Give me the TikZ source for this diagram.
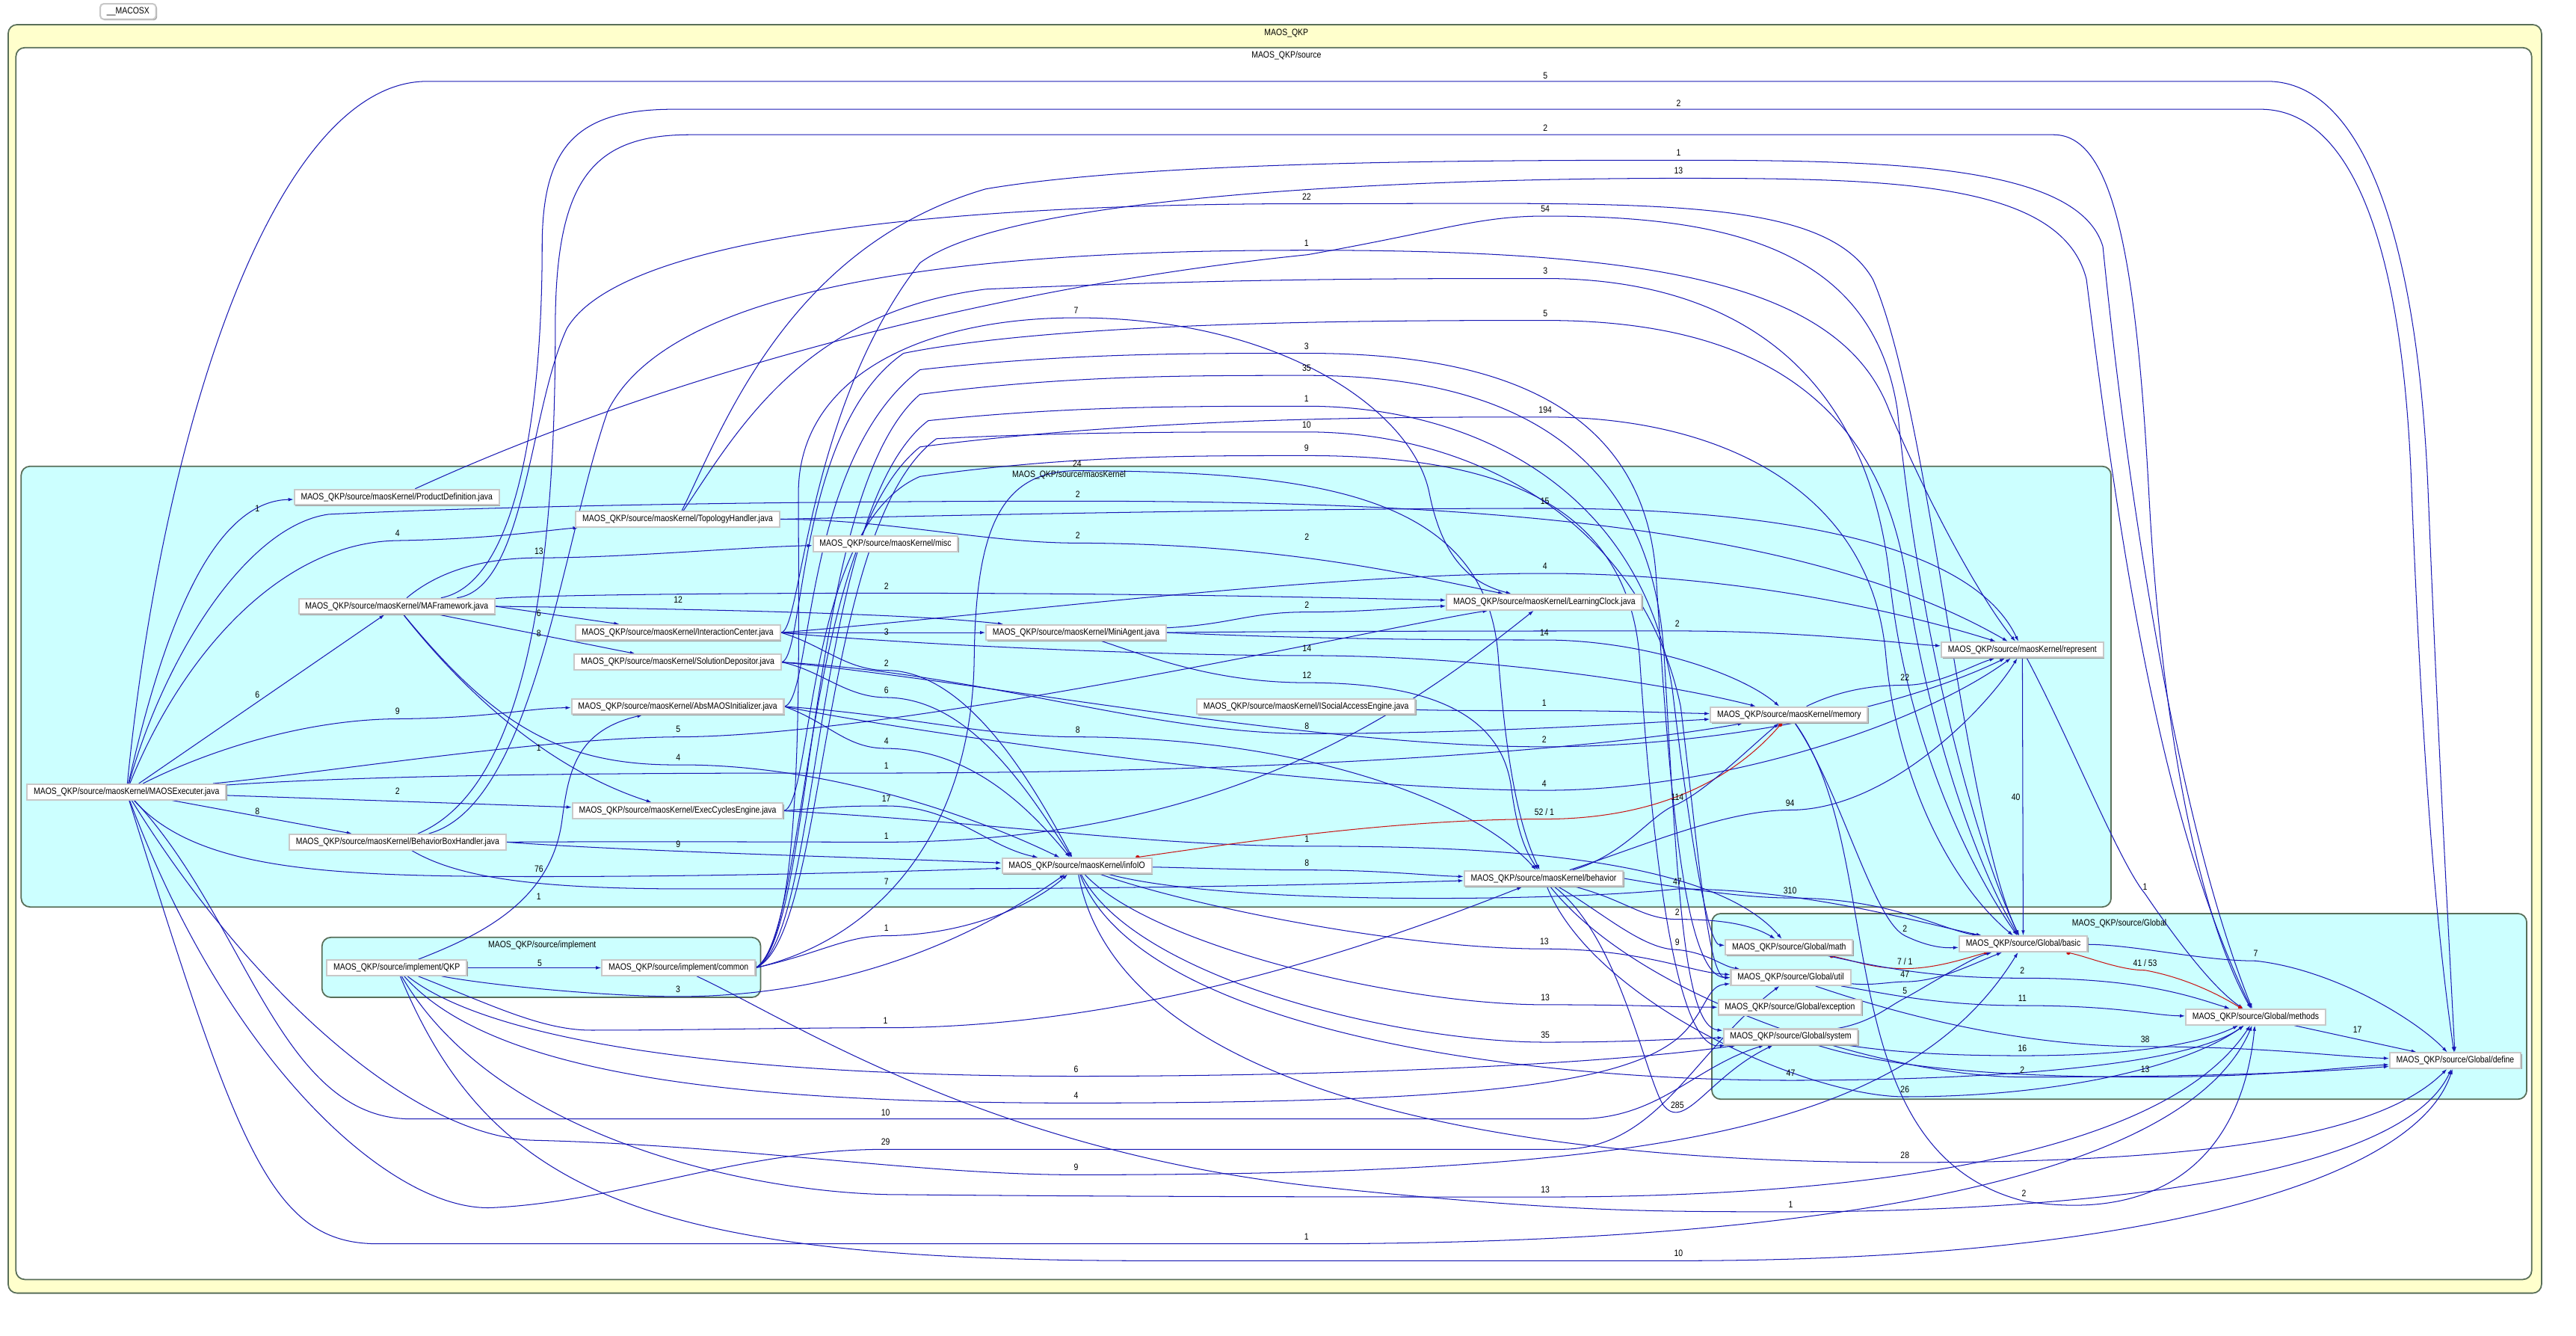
\documentclass[tikz,border=0pt]{standalone}
\usepackage{fontspec}
\setmainfont{Liberation Sans}[FakeStretch=0.85]
\usetikzlibrary{arrows.meta,shadows}
\definecolor{edgeblue}{RGB}{24,24,180}
\definecolor{cycred}{RGB}{200,20,20}
\definecolor{outerfill}{RGB}{255,255,204}
\definecolor{clusterfill}{RGB}{204,255,255}
\definecolor{frameline}{RGB}{88,110,88}
\definecolor{boxline}{RGB}{200,200,200}
\pgfdeclarelayer{clusters}
\pgfdeclarelayer{wires}
\pgfsetlayers{clusters,wires,main}
\begin{document}
\begin{tikzpicture}[x=0.75pt,y=0.75pt,
  file/.style={draw=boxline, line width=0.7pt, fill=white, inner xsep=3pt, inner ysep=1.2pt, minimum height=7pt, font=\fontsize{4.2}{5}\selectfont,
    drop shadow={shadow xshift=0.5pt, shadow yshift=-0.5pt, fill=black!40, opacity=1}},
  lbl/.style={inner sep=0.5pt, font=\fontsize{4.2}{5}\selectfont},
  dep/.style={draw=edgeblue, line width=0.35pt, -{Latex[length=2.4pt,width=1.6pt]}},
  cyc/.style={draw=cycred, line width=0.35pt, {Circle[length=1.8pt]}-{Circle[length=1.8pt]}},
  group/.style={draw=frameline, line width=0.6pt, rounded corners=4pt}]
\useasboundingbox (0,0) rectangle (1568,-812.67);

%Clusters
\begin{pgfonlayer}{clusters}
\draw[group, fill=outerfill] (5,-15) rectangle (1547,-787);
\draw[group, fill=white] (9.7,-29) rectangle (1541,-778.7);
\draw[group, fill=clusterfill] (12.9,-283.8) rectangle (1285,-552);
\draw[group, fill=clusterfill] (196,-570.5) rectangle (463,-607);
\draw[group, fill=clusterfill] (1042,-556) rectangle (1538,-669);
\end{pgfonlayer}

% Text Node
\node[lbl] (tqkp) at (783,-20) {MAOS\_QKP};
\node[lbl] (tsrc) at (783,-34) {MAOS\_QKP/source};
\node[lbl] (tker) at (650.7,-289) {MAOS\_QKP/source/maosKernel};
\node[lbl] (timp) at (330,-575.5) {MAOS\_QKP/source/implement};
\node[lbl] (tglo) at (1290,-562) {MAOS\_QKP/source/Global};

%Files
\node[file, rounded corners=1.5pt] (mac) at (78,-7) {\_\_MACOSX};
\node[file] (pd) at (241.5,-302.6) {MAOS\_QKP/source/maosKernel/ProductDefinition.java};
\node[file] (topo) at (412.5,-316) {MAOS\_QKP/source/maosKernel/TopologyHandler.java};
\node[file] (misc) at (539,-331) {MAOS\_QKP/source/maosKernel/misc};
\node[file] (mafw) at (241.5,-369) {MAOS\_QKP/source/maosKernel/MAFramework.java};
\node[file] (ic) at (412.5,-385) {MAOS\_QKP/source/maosKernel/InteractionCenter.java};
\node[file] (sd) at (412.5,-403) {MAOS\_QKP/source/maosKernel/SolutionDepositor.java};
\node[file] (init) at (412.5,-430) {MAOS\_QKP/source/maosKernel/AbsMAOSInitializer.java};
\node[file] (exe) at (77,-482) {MAOS\_QKP/source/maosKernel/MAOSExecuter.java};
\node[file] (ece) at (412.5,-493.5) {MAOS\_QKP/source/maosKernel/ExecCyclesEngine.java};
\node[file] (bbh) at (242,-512.5) {MAOS\_QKP/source/maosKernel/BehaviorBoxHandler.java};
\node[file] (mini) at (655,-385) {MAOS\_QKP/source/maosKernel/MiniAgent.java};
\node[file] (clock) at (940,-366.5) {MAOS\_QKP/source/maosKernel/LearningClock.java};
\node[file] (sae) at (795,-430) {MAOS\_QKP/source/maosKernel/ISocialAccessEngine.java};
\node[file] (io) at (655.5,-527) {MAOS\_QKP/source/maosKernel/infoIO};
\node[file] (beh) at (939.6,-534.6) {MAOS\_QKP/source/maosKernel/behavior};
\node[file] (mem) at (1089,-435) {MAOS\_QKP/source/maosKernel/memory};
\node[file] (rep) at (1231,-395.5) {MAOS\_QKP/source/maosKernel/represent};
\node[file] (qkp) at (241.5,-589) {MAOS\_QKP/source/implement/QKP};
\node[file] (com) at (413,-589) {MAOS\_QKP/source/implement/common};
\node[file] (gmath) at (1089,-576.5) {MAOS\_QKP/source/Global/math};
\node[file] (gutil) at (1090,-595) {MAOS\_QKP/source/Global/util};
\node[file] (gexc) at (1089.5,-613) {MAOS\_QKP/source/Global/exception};
\node[file] (gsys) at (1090,-631) {MAOS\_QKP/source/Global/system};
\node[file] (gbasic) at (1231.5,-574.5) {MAOS\_QKP/source/Global/basic};
\node[file] (gmeth) at (1373,-619) {MAOS\_QKP/source/Global/methods};
\node[file] (gdef) at (1494.5,-645.5) {MAOS\_QKP/source/Global/define};

\begin{pgfonlayer}{wires}
%MAOSExecuter
\draw[dep] (exe) .. controls (100,-380) and (130,-305) .. (pd);
\draw[dep] (exe) -- (mafw);
\draw[dep] (exe) -- (bbh);
\draw[dep] (exe) .. controls (110,-400) and (170,-330) .. (242,-329) .. controls (300,-328) and (330,-323) .. (topo);
\draw[dep] (exe) .. controls (120,-460) and (180,-438) .. (242,-437.5) .. controls (300,-437) and (320,-431) .. (init);
\draw[dep] (exe) -- (ece);
\draw[dep] (exe) .. controls (100,-400) and (150,-320) .. (200,-313) .. controls (350,-306) and (550,-305) .. (656,-305) .. controls (900,-305) and (1100,-320) .. (rep);
\draw[dep] (exe) .. controls (120,-530) and (200,-533.5) .. (328,-533.5) .. controls (450,-533.5) and (560,-530) .. (io);
\draw[dep] (exe) .. controls (200,-470) and (330,-449) .. (412.8,-448.5) .. controls (550,-448) and (850,-380) .. (clock);
\draw[dep] (exe) .. controls (250,-470) and (450,-470.5) .. (539.5,-470.5) .. controls (800,-470) and (980,-455) .. (mem);
\draw[dep] (exe) .. controls (100,-250) and (170,-49.5) .. (260,-49.5) -- (1380,-49.5) .. controls (1440,-49.5) and (1472,-150) .. (1478,-300) .. controls (1484,-450) and (1490,-560) .. (gdef);
\draw[dep] (exe) .. controls (150,-560) and (170,-681) .. (250,-681) -- (960,-681) .. controls (1010,-681) and (1030,-650) .. (gsys);
\draw[dep] (exe) .. controls (140,-650) and (240,-738) .. (300,-735) .. controls (380,-731) and (450,-699.5) .. (539,-699.5) -- (950,-699.5) .. controls (1010,-699.5) and (1030,-640) .. (gutil);
\draw[dep] (exe) .. controls (150,-600) and (250,-692) .. (325,-694) .. controls (450,-697) and (560,-715) .. (655,-715) .. controls (1000,-715) and (1160,-690) .. (gbasic);
\draw[dep] (exe) .. controls (145,-700) and (165,-757) .. (230,-757) -- (795,-757) .. controls (1100,-757) and (1330,-720) .. (gmeth);
%MAFramework
\draw[dep] (mafw) .. controls (270,-345) and (300,-339.5) .. (328,-339.5) .. controls (380,-339.5) and (450,-333) .. (misc);
\draw[dep] (mafw.east) -- (ic);
\draw[dep] (mafw) -- (sd);
\draw[dep] (mafw) .. controls (290,-430) and (340,-470) .. (ece);
\draw[dep] (mafw.east) .. controls (450,-371) and (560,-374) .. (mini);
\draw[dep] (mafw) .. controls (300,-440) and (340,-466) .. (412.8,-465.5) .. controls (500,-465) and (590,-495) .. (io);
\draw[dep] (mafw) .. controls (330,-362) and (450,-361) .. (539.5,-361) .. controls (700,-361) and (820,-364) .. (clock);
\draw[dep] (mafw) .. controls (315,-355) and (330,-250) .. (330,-150) .. controls (330,-90) and (350,-66.5) .. (410,-66.5) -- (1376,-66.5) .. controls (1420,-66.5) and (1462,-120) .. (1468,-300) .. controls (1474,-450) and (1482,-560) .. (gdef);
\draw[dep] (mafw) .. controls (320,-358) and (322,-250) .. (345,-200) .. controls (380,-140) and (600,-124) .. (795.3,-124) .. controls (1000,-124) and (1110,-118) .. (1140,-170) .. controls (1175,-250) and (1195,-500) .. (gbasic);
%ProductDefinition
\draw[dep] (pd) .. controls (400,-230) and (600,-175) .. (796,-155) .. controls (880,-140) and (900,-131.5) .. (940.6,-131.5) .. controls (1050,-131.5) and (1140,-150) .. (1155,-250) .. controls (1170,-400) and (1205,-520) .. (gbasic);
%BehaviorBoxHandler
\draw[dep] (bbh.east) .. controls (380,-518) and (530,-522) .. (io);
\draw[dep] (bbh.east) .. controls (400,-512) and (480,-512.5) .. (539.5,-512.5) .. controls (750,-512) and (860,-430) .. (clock);
\draw[dep] (bbh) .. controls (280,-535) and (330,-541) .. (420,-541) -- (539.5,-541) .. controls (700,-541) and (820,-538) .. (beh);
\draw[dep] (bbh) .. controls (320,-480) and (338,-350) .. (338,-200) .. controls (338,-110) and (360,-82) .. (420,-82) -- (1250,-82) .. controls (1285,-82) and (1300,-150) .. (1308,-300) .. controls (1316,-450) and (1340,-560) .. (gmeth);
\draw[dep] (bbh) .. controls (325,-490) and (342,-330) .. (370,-250) .. controls (410,-170) and (600,-152.3) .. (795.3,-152.3) .. controls (1000,-152.3) and (1120,-170) .. (1150,-250) .. controls (1180,-320) and (1210,-370) .. (rep);
%TopologyHandler
\draw[dep] (topo) .. controls (440,-260) and (480,-150) .. (600,-115) .. controls (700,-98) and (900,-97.5) .. (1021.7,-97.5) .. controls (1150,-97.5) and (1265,-100) .. (1280,-150) .. controls (1295,-300) and (1325,-500) .. (gmeth);
\draw[dep] (topo.east) .. controls (600,-313) and (800,-309.4) .. (940.4,-309.4) .. controls (1080,-309.4) and (1200,-330) .. (rep);
\draw[dep] (topo) .. controls (450,-260) and (490,-190) .. (600,-176) .. controls (750,-169.5) and (850,-169.5) .. (940.6,-169.5) .. controls (1050,-169.5) and (1135,-220) .. (1150,-350) .. controls (1160,-450) and (1200,-530) .. (gbasic);
\draw[dep] (topo.east) .. controls (540,-316) and (600,-330.5) .. (656,-330.5) .. controls (780,-331) and (860,-350) .. (clock);
%InteractionCenter
\draw[dep] (ic) -- (mini);
\draw[dep] (ic.east) .. controls (500,-392) and (515,-408) .. (539.5,-408) .. controls (590,-408) and (630,-480) .. (io);
\draw[dep] (ic.east) .. controls (550,-392) and (700,-399) .. (795.5,-399) .. controls (900,-399) and (1010,-415) .. (mem);
\draw[dep] (ic.east) .. controls (488,-385) and (490,-250) .. (560,-160) .. controls (620,-115) and (900,-108.5) .. (1021.7,-108.5) .. controls (1150,-108.5) and (1255,-110) .. (1270,-170) .. controls (1290,-330) and (1315,-500) .. (gmeth);
\draw[dep] (ic.east) .. controls (600,-375) and (800,-349) .. (940.4,-349) .. controls (1050,-349) and (1150,-370) .. (rep);
%SolutionDepositor
\draw[dep] (sd.east) .. controls (500,-408) and (515,-424.5) .. (539.5,-424.5) .. controls (590,-425) and (625,-480) .. (io);
\draw[dep] (sd.east) .. controls (600,-410) and (700,-446.5) .. (795.5,-446.5) .. controls (900,-446.5) and (1000,-440) .. (mem);
\draw[dep] (sd.east) .. controls (600,-415) and (800,-454.5) .. (940,-454.5) .. controls (1050,-454.5) and (1160,-430) .. (rep);
\draw[dep] (sd.east) .. controls (490,-400) and (485,-260) .. (550,-215) .. controls (650,-195) and (850,-195) .. (940.6,-195) .. controls (1050,-195) and (1140,-230) .. (1160,-350) .. controls (1175,-450) and (1205,-530) .. (gbasic);
%AbsMAOSInitializer
\draw[dep] (init.east) .. controls (505,-440) and (515,-455.5) .. (539.5,-455.5) .. controls (590,-456) and (625,-490) .. (io);
\draw[dep] (init.east) .. controls (550,-435) and (600,-448.5) .. (656,-448.5) .. controls (800,-449) and (900,-490) .. (beh);
\draw[dep] (init.east) .. controls (550,-445) and (800,-481) .. (940,-481) .. controls (1050,-481) and (1170,-440) .. (rep);
\draw[dep] (init.east) .. controls (495,-425) and (488,-280) .. (560,-225) .. controls (650,-215) and (720,-215) .. (795.3,-215) .. controls (900,-215) and (1000,-240) .. (1008,-350) .. controls (1016,-480) and (1025,-595) .. (gutil);
%ExecCyclesEngine
\draw[dep] (ece.east) .. controls (505,-491) and (515,-490.5) .. (539.5,-490.5) .. controls (580,-490.5) and (600,-515) .. (io);
\draw[dep] (ece.east) .. controls (600,-500) and (700,-515) .. (795.5,-515) .. controls (900,-515) and (1040,-520) .. (gmath);
\draw[dep] (ece.east) .. controls (495,-490) and (490,-320) .. (560,-290) .. controls (650,-277.3) and (720,-277.3) .. (795.3,-277.3) .. controls (900,-277.3) and (990,-300) .. (998,-400) .. controls (1006,-520) and (1020,-640) .. (gsys);
%implement/common
\draw[dep] (com.east) .. controls (500,-580) and (515,-569.5) .. (539.5,-569.5) .. controls (590,-569) and (630,-550) .. (io);
\draw[dep] (com.east) .. controls (540,-570) and (592,-500) .. (593,-400) .. controls (594,-320) and (610,-286.5) .. (655.6,-286.5) .. controls (800,-287) and (905,-300) .. (912,-400) .. controls (918,-480) and (928,-510) .. (beh);
\draw[dep] (com.east) .. controls (490,-570) and (486,-400) .. (486,-300) .. controls (486,-230) and (560,-193.4) .. (655,-193.4) .. controls (780,-193.4) and (860,-250) .. (870,-300) .. controls (878,-340) and (895,-355) .. (clock);
\draw[dep] (com.east) .. controls (492,-570) and (488,-330) .. (560,-272) .. controls (700,-253.8) and (850,-253.8) .. (940.6,-253.8) .. controls (1050,-253.8) and (1140,-300) .. (1148,-400) .. controls (1156,-480) and (1190,-540) .. (gbasic);
\draw[dep] (com.east) .. controls (496,-570) and (490,-300) .. (560,-240) .. controls (650,-228.5) and (720,-228.5) .. (795.3,-228.5) .. controls (900,-228.5) and (1005,-260) .. (1013,-400) .. controls (1021,-540) and (1025,-625) .. (gsys);
\draw[dep] (com.east) .. controls (500,-570) and (494,-310) .. (565,-256) .. controls (650,-247.2) and (720,-247.2) .. (795.3,-247.2) .. controls (900,-247.2) and (1000,-300) .. (1018,-420) .. controls (1030,-520) and (1040,-575) .. (gmath);
\draw[dep] (com.east) .. controls (504,-570) and (498,-320) .. (570,-267) .. controls (650,-262.9) and (720,-262.9) .. (795.3,-262.9) .. controls (900,-262.9) and (1000,-320) .. (1023,-430) .. controls (1035,-530) and (1040,-595) .. (gutil);
\draw[dep] (com) .. controls (480,-620) and (600,-700) .. (800,-722) .. controls (950,-737.5) and (1000,-737.5) .. (1090,-737.5) .. controls (1250,-737.5) and (1460,-720) .. (gdef);
%implement/QKP
\draw[dep] (qkp) -- (com);
\draw[dep] (qkp) .. controls (300,-600) and (370,-606.5) .. (412.7,-606.5) .. controls (500,-606.5) and (580,-580) .. (io);
\draw[dep] (qkp) .. controls (300,-612) and (330,-627) .. (360,-627) .. controls (420,-627) and (480,-625.5) .. (539,-625.5) .. controls (700,-625.5) and (850,-570) .. (beh);
\draw[dep] (qkp) .. controls (300,-635) and (450,-655) .. (655,-655) .. controls (850,-655) and (1000,-645) .. (gsys);
\draw[dep] (qkp) .. controls (300,-655) and (450,-671.3) .. (655,-671.3) .. controls (900,-671.3) and (1000,-660) .. (1028,-625) .. controls (1040,-610) and (1040,-600) .. (gutil);
\draw[dep] (qkp) .. controls (300,-690) and (450,-725) .. (540,-727) .. controls (700,-728.5) and (850,-728.5) .. (940.6,-728.5) .. controls (1150,-728.5) and (1320,-700) .. (gmeth);
\draw[dep] (qkp) .. controls (300,-730) and (400,-767.3) .. (700,-767.3) .. controls (850,-767.3) and (950,-767.3) .. (1021.7,-767.3) .. controls (1300,-767.3) and (1470,-720) .. (gdef);
\draw[dep] (qkp) .. controls (290,-570) and (335,-550) .. (342,-500) .. controls (346,-470) and (350,-445) .. (init);
%MiniAgent
\draw[dep] (mini) .. controls (750,-380) and (760,-372.5) .. (795.5,-372.5) .. controls (830,-372.5) and (850,-370) .. (clock);
\draw[dep] (mini.east) .. controls (800,-389) and (880,-389.5) .. (940,-389.5) .. controls (1000,-389.5) and (1060,-410) .. (mem);
\draw[dep] (mini) .. controls (700,-400) and (740,-415.5) .. (795.5,-415.5) .. controls (880,-415.5) and (915,-440) .. (920,-480) .. controls (924,-510) and (930,-520) .. (beh);
\draw[dep] (mini.east) .. controls (800,-384) and (950,-384) .. (1021,-384) .. controls (1100,-384) and (1160,-392) .. (rep);
%ISocialAccessEngine
\draw[dep] (sae) .. controls (880,-432.5) and (900,-432.5) .. (940,-432.5) .. controls (990,-432.5) and (1020,-434) .. (mem);
%infoIO
\draw[dep] (io) .. controls (720,-528) and (760,-529.5) .. (795.5,-529.5) .. controls (840,-529.5) and (870,-533) .. (beh);
\draw[cyc] (io) .. controls (760,-512) and (850,-498.5) .. (940,-498.5) .. controls (1000,-498.5) and (1050,-480) .. (mem);
\draw[dep] (io) .. controls (720,-550) and (850,-577.5) .. (940,-577.5) .. controls (1000,-577.5) and (1030,-592) .. (gutil);
\draw[dep] (io) .. controls (700,-575) and (850,-611.5) .. (940.6,-611.5) .. controls (1000,-611.5) and (1020,-613) .. (gexc);
\draw[dep] (io) .. controls (690,-595) and (850,-634.3) .. (940.6,-634.3) .. controls (1000,-634.3) and (1020,-632) .. (gsys);
\draw[dep] (io) .. controls (750,-552) and (960,-548) .. (1021,-541) .. controls (1100,-541) and (1170,-562) .. (gbasic);
\draw[dep] (io) .. controls (690,-620) and (900,-657.5) .. (1090,-657.5) .. controls (1200,-657.5) and (1330,-650) .. (gmeth);
\draw[dep] (io) .. controls (680,-660) and (900,-707.5) .. (1159.5,-707.5) .. controls (1350,-707.5) and (1450,-690) .. (gdef);
%behavior
\draw[dep] (beh) .. controls (990,-520) and (1005,-495) .. (1021,-489.5) .. controls (1040,-480) and (1065,-455) .. (mem);
\draw[dep] (beh) .. controls (1000,-515) and (1050,-493) .. (1089.6,-493) .. controls (1150,-493) and (1210,-430) .. (rep);
\draw[dep] (beh.east) .. controls (1020,-540) and (1060,-546.5) .. (1089.6,-546.5) .. controls (1150,-546.5) and (1180,-565) .. (gbasic);
\draw[dep] (beh) .. controls (990,-548) and (1000,-559.5) .. (1021,-559.5) .. controls (1045,-559.5) and (1065,-562) .. (gmath);
\draw[dep] (beh) .. controls (975,-555) and (1000,-578) .. (1021,-578) .. controls (1040,-580) and (1048,-588) .. (gutil);
\draw[dep] (beh) .. controls (985,-570) and (1000,-650) .. (1012,-672) .. controls (1025,-690) and (1040,-655) .. (gsys);
\draw[dep] (beh) .. controls (970,-610) and (1100,-667.5) .. (1159.5,-667.5) .. controls (1250,-667.5) and (1330,-650) .. (gmeth);
\draw[dep] (beh) .. controls (1000,-610) and (1150,-655.5) .. (1231,-655.5) .. controls (1350,-655.5) and (1420,-652) .. (gdef);
%memory
\draw[dep] (mem) .. controls (1120,-420) and (1140,-417) .. (1159.5,-417) .. controls (1180,-417) and (1200,-405) .. (rep);
\draw[dep] (mem) .. controls (1120,-480) and (1140,-560) .. (1159.5,-569.5) .. controls (1175,-577) and (1185,-577) .. (gbasic);
\draw[dep] (mem) .. controls (1150,-520) and (1110,-700) .. (1232,-731) .. controls (1320,-745) and (1365,-700) .. (gmeth);
%represent
\draw[dep] (rep) -- (gbasic);
\draw[dep] (rep) .. controls (1260,-450) and (1290,-525) .. (1305.7,-544) .. controls (1320,-565) and (1345,-600) .. (gmeth);
%Global
\draw[cyc] (gmath) .. controls (1130,-585) and (1140,-589.5) .. (1159.5,-589.5) .. controls (1180,-589.5) and (1200,-582) .. (gbasic);
\draw[dep] (gutil) .. controls (1140,-600) and (1150,-597.5) .. (1159.5,-597.5) .. controls (1180,-597.5) and (1200,-587) .. (gbasic);
\draw[dep] (gsys) .. controls (1140,-622) and (1150,-612) .. (1159.5,-607.5) .. controls (1180,-596) and (1200,-583) .. (gbasic);
\draw[dep] (gmath) .. controls (1150,-590) and (1180,-595.3) .. (1231,-595.3) .. controls (1300,-595.3) and (1330,-605) .. (gmeth);
\draw[dep] (gutil) .. controls (1150,-605) and (1180,-612) .. (1231,-612) .. controls (1290,-612) and (1310,-618) .. (gmeth);
\draw[dep] (gsys) .. controls (1150,-640) and (1180,-642.5) .. (1231,-642.5) .. controls (1300,-642.5) and (1340,-635) .. (gmeth);
\draw[dep] (gutil) .. controls (1140,-612) and (1220,-637) .. (1305.7,-637) .. controls (1380,-637) and (1420,-643) .. (gdef);
\draw[dep] (gsys) .. controls (1150,-650) and (1220,-655.5) .. (1305.7,-655.5) .. controls (1380,-655.5) and (1420,-650) .. (gdef);
\draw[cyc] (gbasic) .. controls (1270,-582) and (1290,-590.5) .. (1305.7,-590.5) .. controls (1330,-595) and (1350,-605) .. (gmeth);
\draw[dep] (gbasic) .. controls (1300,-575) and (1340,-584.8) .. (1373,-584.8) .. controls (1420,-590) and (1470,-620) .. (gdef);
\draw[dep] (gmeth) -- (gdef);
\end{pgfonlayer}

% Text Node: edge counts
\foreach \lx/\ly/\lt [count=\i] in {156.7/309.5/1, 156.7/423/6, 156.7/494/8, 242/324.4/4, 242/433/9, 242/481.6/2,
  328/335.3/13, 328/373/6, 328/385.7/8, 328/455/1, 328/529/76, 328/545.5/1, 328.5/586/5,
  412.8/365/12, 412.8/444/5, 412.8/461/4, 412.8/514/9, 412.7/602/3,
  539.5/356.7/2, 539.5/384.8/3, 539.5/403.6/2, 539.5/420/6, 539.5/451/4, 539.5/466/1, 539.5/486/17,
  539.5/509/1, 539.5/536.6/7, 539.5/565/1, 539/621/1, 539/677/10, 539/695/29,
  655.6/282/24, 656/300.8/2, 656/326/2, 656/444/8, 655/188.9/7, 655/650.6/6, 655/666.8/4, 655/710.6/9,
  795.5/326.7/2, 795.5/368/2, 795.5/394.6/14, 795.5/411/12, 795.5/442/8, 795.5/510.5/1, 795.5/525/8,
  795.3/119.6/22, 795.3/147.8/1, 795.3/210.6/3, 795.3/224/35, 795.3/242.7/1, 795.3/258.4/10, 795.3/272.8/9, 795.3/752.6/1,
  940.6/46/5, 940.6/77.8/2, 940.6/127/54, 940.6/165/3, 940.6/190.6/5, 940.6/249.3/194, 940.4/304.9/15, 940.4/344.5/4,
  940/385/14, 940/428/1, 940/450/2, 940/476.8/4, 940/573/13, 940.6/607/13, 940.6/629.8/35, 940.6/724/13,
  1021.7/63/2, 1021.7/93.1/1, 1021.7/103.9/13, 1021/379.5/2, 1021/485/114, 1021/536.4/47, 1021/555/2, 1021/573.6/9,
  1021/672.6/285, 1021.7/762.8/10, 1089.6/488.6/94, 1089.6/542/310, 1090/653/47, 1090/733/1,
  1159.5/412.5/22, 1159.5/565/2, 1159.5/593/47, 1159.5/603/5, 1159.5/663/26, 1159.5/703/28,
  1227/485/40, 1231/590.8/2, 1231/607.4/11, 1231/638/16, 1231/651/2, 1232/726.4/2,
  1305.7/539.6/1, 1305.7/632.8/38, 1305.7/651/13, 1373/580.3/7, 1435/626.7/17}
  \node[lbl] (n\i) at (\lx,-\ly) {\lt};
\node[lbl] (r1) at (940,-494) {52 / 1};
\node[lbl] (r2) at (1159.5,-585) {7 / 1};
\node[lbl] (r3) at (1305.7,-586) {41 / 53};

\end{tikzpicture}
\end{document}
